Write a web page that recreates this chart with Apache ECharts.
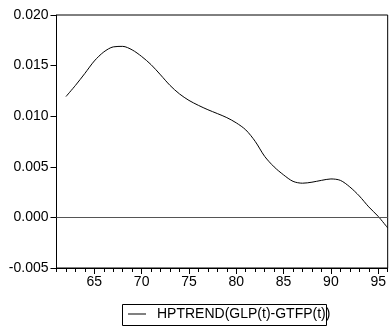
<!DOCTYPE html>
<html><head><meta charset="utf-8">
<script src="https://cdn.jsdelivr.net/npm/echarts@6/dist/echarts.min.js"></script>
<style>html,body{margin:0;padding:0;background:#fff}#c{width:389px;height:329px}</style>
</head><body><div id="c"></div>
<script>
var years = [62,63,64,65,66,67,68,69,70,71,72,73,74,75,76,77,78,79,80,81,82,83,84,85,86,87,88,89,90,91,92,93,94,95,96];
var values = [0.01194,0.01304,0.01423,0.01546,0.01635,0.01685,0.0169,0.01655,0.0159,0.01509,0.01408,
  0.01304,0.0122,0.01156,0.01107,0.01064,0.01026,0.00986,0.00934,0.00865,0.00751,
  0.00603,0.00499,0.0042,0.00356,0.00338,0.00348,0.00366,0.0038,0.00366,0.00301,0.00212,0.00104,0.0001,-0.00104];
var majorTicks = [65,70,75,80,85,90,95];
var minorTicks = [61,62,63,64,65,66,67,68,69,70,71,72,73,74,75,76,77,78,79,80,81,82,83,84,85,86,87,88,89,90,91,92,93,94,95,96];
var seriesName = 'HPTREND(GLP(t)-GTFP(t))';

var font = "'Liberation Sans', Arial, sans-serif";
var chart = echarts.init(document.getElementById('c'));
var data = years.map(function(y,i){return [y, values[i]];});
chart.setOption({
  animation:false,
  grid:{left:56.5, top:15, width:334, height:253, show:true, borderColor:'#000', borderWidth:1, backgroundColor:'transparent'},
  xAxis:[{
    type:'value', min:61, max:96, position:'bottom',
    axisLine:{show:true, onZero:false, lineStyle:{color:'#000', width:1}},
    axisTick:{show:true, length:6, customValues:majorTicks, lineStyle:{color:'#000'}},
    axisLabel:{show:true, customValues:majorTicks, margin:7, color:'#000', fontSize:14, fontFamily:font},
    splitLine:{show:false}
  },{
    type:'value', min:61, max:96, position:'bottom', gridIndex:0,
    axisLine:{show:false, onZero:false},
    axisTick:{show:true, length:4, customValues:minorTicks, lineStyle:{color:'#000'}},
    axisLabel:{show:false},
    splitLine:{show:false}
  }],
  yAxis:{
    type:'value', min:-0.005, max:0.02, interval:0.005,
    axisLine:{show:true, onZero:false, lineStyle:{color:'#000', width:1}},
    axisTick:{show:true, length:6, lineStyle:{color:'#000'}},
    axisLabel:{margin:8, color:'#000', fontSize:14, fontFamily:font, formatter:function(v){return v.toFixed(3);}},
    splitLine:{show:false}
  },
  legend:{
    show:true, left:128, top:307, padding:0, itemWidth:18, itemHeight:1,
    data:[{name:seriesName, icon:'rect'}],
    itemStyle:{color:'#000'},
    textStyle:{color:'#000', fontSize:14, fontFamily:font, padding:[0,0,0,6]}
  },
  graphic:[{type:'rect', shape:{x:122.5, y:304.5, width:204, height:21}, style:{fill:'none', stroke:'#000', lineWidth:1}, silent:true}],
  series:[{
    name:seriesName, type:'line', data:data, symbol:'none', smooth:0.3,
    lineStyle:{color:'#000', width:1}, itemStyle:{color:'#000'},
    markLine:{silent:true, symbol:'none', label:{show:false}, lineStyle:{color:'#555', width:1, type:'solid'}, data:[{yAxis:0}]}
  }]
});
</script></body></html>
